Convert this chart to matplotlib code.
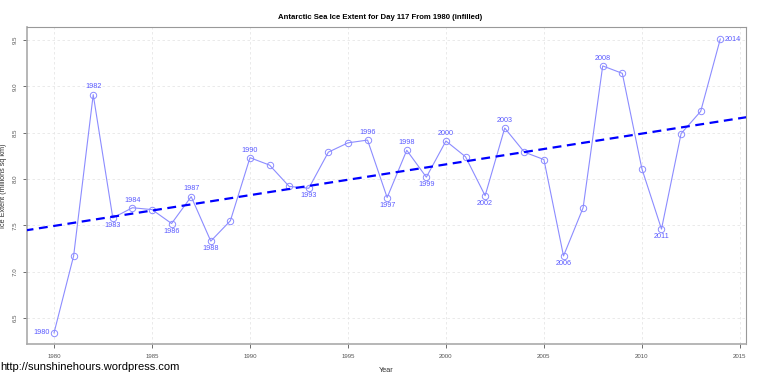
import matplotlib
matplotlib.use("Agg")
import matplotlib.pyplot as plt
import numpy as np

plt.rcParams['font.family'] = ['Liberation Sans', 'DejaVu Sans']

# Antarctic sea ice extent, day 117 (million sq km)
years = list(range(1980, 2015))
extent = [6.34, 7.17, 8.91, 7.58, 7.69, 7.67, 7.52, 7.81, 7.33, 7.55,
          8.23, 8.15, 7.92, 7.90, 8.29, 8.39, 8.42, 7.80, 8.31, 8.02,
          8.41, 8.24, 7.82, 8.55, 8.29, 8.21, 7.17, 7.69, 9.22, 9.14,
          8.11, 7.46, 8.49, 8.73, 9.51]

# which years get a label and where it goes
above = [1982, 1984, 1987, 1990, 1996, 1998, 2000, 2003, 2008]
below = [1983, 1986, 1988, 1993, 1997, 1999, 2002, 2006, 2011]
left = [1980]
right = [2014]

xticks = [1980, 1985, 1990, 1995, 2000, 2005, 2010, 2015]
yticks = [6.5, 7.0, 7.5, 8.0, 8.5, 9.0, 9.5]

line_col = "#8c8cff"
lab_col = "#5a5aff"

fig = plt.figure(figsize=(7.6, 3.79), dpi=100)
ax = fig.add_axes([0.0355, 0.0923, 0.9455, 0.8365])

x = np.array(years)
y = np.array(extent)

ax.plot(x, y, color=line_col, lw=0.8, marker="o", ms=4.6,
        mfc="none", mec=line_col, mew=0.7, zorder=3)

# linear trend
k, b = np.polyfit(x, y, 1)
xx = np.array([1978.5, 2015.5])
ax.plot(xx, k * xx + b, color="#0000ff", lw=1.6, ls=(0, (4, 2.5)), zorder=4)

fs = 5.2
for yr, v in zip(years, extent):
    if yr in above:
        ax.annotate(str(yr), (yr, v), xytext=(0, 3), textcoords="offset points",
                    ha="center", va="bottom", fontsize=fs, color=lab_col)
    elif yr in below:
        ax.annotate(str(yr), (yr, v), xytext=(0, -3), textcoords="offset points",
                    ha="center", va="top", fontsize=fs, color=lab_col)
    elif yr in left:
        ax.annotate(str(yr), (yr, v), xytext=(-3, 0), textcoords="offset points",
                    ha="right", va="center", fontsize=fs, color=lab_col)
    elif yr in right:
        ax.annotate(str(yr), (yr, v), xytext=(3, 0), textcoords="offset points",
                    ha="left", va="center", fontsize=fs, color=lab_col)

ax.set_xlim(1978.62, 2015.29)
ax.set_ylim(6.22, 9.64)
ax.set_xticks(xticks)
ax.set_yticks(yticks)
ax.set_xticklabels([str(t) for t in xticks])
ax.set_yticklabels([str(t) for t in yticks], rotation=90, va="center")
ax.tick_params(labelsize=4.4, colors="#555555", length=3, width=0.6, pad=4)
ax.grid(True, color="#e6e6e6", ls=(0, (3, 3)), lw=0.6)
ax.set_axisbelow(True)

for s in ["top", "right"]:
    ax.spines[s].set_color("#999999")
    ax.spines[s].set_linewidth(0.8)
for s in ["bottom", "left"]:
    ax.spines[s].set_color("#aaaaaa")
    ax.spines[s].set_linewidth(1.2)

ax.set_xlabel("Year", fontsize=5.2, color="#333333", labelpad=6)
ax.set_ylabel("Ice Extent (millions sq km)", fontsize=5.2, color="#333333")
ax.yaxis.set_label_coords(-0.0285, 0.5)

fig.text(0.5, 0.955, "Antarctic Sea Ice Extent for Day 117 From 1980 (infilled)",
         ha="center", va="center", fontsize=5.6, fontweight="bold")
fig.text(0.0, 0.032, "http://sunshinehours.wordpress.com", ha="left", va="center",
         fontsize=8)

fig.savefig("out.png", dpi=100)
